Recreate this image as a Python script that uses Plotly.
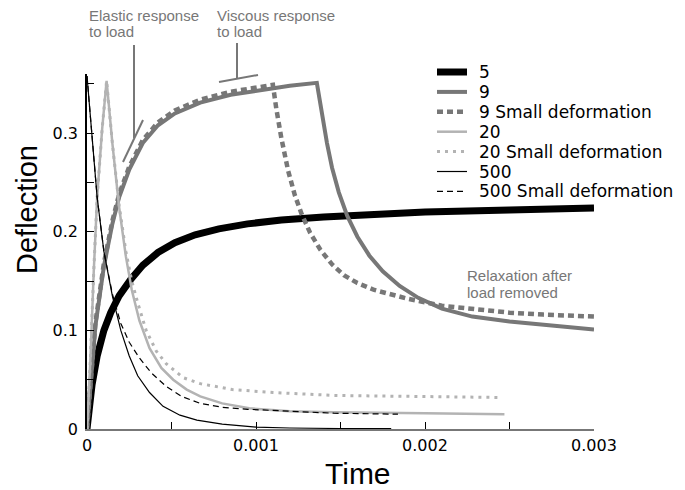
import plotly.graph_objects as go

# ---- data ----
series_names = ["5", "9", "9 Small deformation", "20", "20 Small deformation",
                "500", "500 Small deformation"]

t_5 = [0, 0.00001, 0.00003, 0.00006, 0.0001, 0.00014, 0.00019, 0.00026, 0.00033, 0.00042,
       0.00052, 0.00064, 0.00078, 0.00095, 0.00115, 0.0014, 0.0017, 0.002, 0.0025, 0.003]
y_5 = [0, 0.018, 0.045, 0.074, 0.100, 0.118, 0.135, 0.152, 0.166, 0.179,
       0.189, 0.197, 0.203, 0.208, 0.212, 0.215, 0.218, 0.220, 0.222, 0.224]

t_9 = [0, 0.00002, 0.00005, 0.0001, 0.00015, 0.00019, 0.00025, 0.00033, 0.00042, 0.00052,
       0.00067, 0.00085, 0.00106, 0.0012, 0.00136,
       0.00138, 0.0014, 0.00142, 0.00145, 0.00149, 0.00154, 0.0016, 0.00167, 0.00175,
       0.00185, 0.00196, 0.0021, 0.00228, 0.0025, 0.00275, 0.003]
y_9 = [0, 0.045, 0.105, 0.165, 0.208, 0.235, 0.263, 0.290, 0.308, 0.320,
       0.331, 0.339, 0.345, 0.348, 0.351,
       0.330, 0.310, 0.290, 0.265, 0.240, 0.216, 0.195, 0.176, 0.160,
       0.145, 0.133, 0.122, 0.114, 0.109, 0.105, 0.101]

t_9s = [0, 0.00002, 0.00005, 0.0001, 0.00015, 0.00019, 0.00025, 0.00033, 0.00042, 0.00052,
        0.00067, 0.00085, 0.0011,
        0.00112, 0.00115, 0.00119, 0.00123, 0.00127, 0.00132, 0.00138, 0.00145, 0.00152,
        0.0016, 0.0017, 0.0018, 0.0019, 0.0021, 0.0023, 0.0025, 0.0027, 0.003]
y_9s = [0, 0.047, 0.108, 0.168, 0.211, 0.238, 0.266, 0.293, 0.311, 0.323,
        0.334, 0.342, 0.349,
        0.325, 0.295, 0.262, 0.237, 0.218, 0.199, 0.182, 0.167, 0.156,
        0.148, 0.141, 0.136, 0.132, 0.125, 0.121, 0.118, 0.116, 0.114]

t_20 = [0, 0.00002, 0.00004, 0.00006, 0.00009, 0.000116, 0.00015, 0.00019, 0.00023, 0.000265,
        0.00031, 0.00037, 0.00044, 0.00051, 0.00059, 0.00067, 0.0008, 0.00096, 0.0012,
        0.00146, 0.002, 0.00247]
y_20 = [0, 0.07, 0.16, 0.235, 0.305, 0.353, 0.290, 0.225, 0.175, 0.141,
        0.110, 0.082, 0.062, 0.050, 0.040, 0.033, 0.026, 0.021, 0.018,
        0.017, 0.016, 0.015]

t_20s = [0, 0.00002, 0.00004, 0.00006, 0.00009, 0.000116, 0.00015, 0.00019, 0.00023, 0.000265,
         0.0003, 0.00035, 0.00041, 0.00047, 0.00057, 0.00067, 0.00086, 0.0011, 0.00146,
         0.002, 0.00244]
y_20s = [0, 0.07, 0.16, 0.235, 0.305, 0.353, 0.290, 0.227, 0.180, 0.150,
         0.128, 0.100, 0.079, 0.066, 0.052, 0.046, 0.040, 0.037, 0.034,
         0.033, 0.032]

t_500 = [0, 0.00003, 0.00006, 0.0001, 0.00015, 0.0002, 0.00025, 0.0003, 0.00037, 0.00045,
         0.00055, 0.00065, 0.0008, 0.001, 0.0012, 0.0015, 0.0018]
y_500 = [0.358, 0.300, 0.235, 0.180, 0.135, 0.100, 0.074, 0.054, 0.037, 0.023,
         0.014, 0.009, 0.005, 0.002, 0.001, 0.0005, 0.0003]

t_500s = [0, 0.00003, 0.00006, 0.0001, 0.00015, 0.0002, 0.00025, 0.00031, 0.00038, 0.00047,
          0.00056, 0.00067, 0.0008, 0.00095, 0.00106, 0.0013, 0.00146, 0.00184]
y_500s = [0.358, 0.300, 0.235, 0.180, 0.137, 0.107, 0.088, 0.072, 0.057, 0.043,
          0.033, 0.026, 0.022, 0.020, 0.019, 0.017, 0.016, 0.015]

x_tickvals = [0, 0.001, 0.002, 0.003]
x_ticktext = ["0", "0.001", "0.002", "0.003"]
y_tickvals = [0, 0.1, 0.2, 0.3]
y_ticktext = ["0", "0.1", "0.2", "0.3"]

# ---- styles ----
DARK = "#777777"
LIGHT = "#b3b3b3"
series_data = [(t_5, y_5), (t_9, y_9), (t_9s, y_9s), (t_20, y_20), (t_20s, y_20s),
               (t_500, y_500), (t_500s, y_500s)]
series_styles = [
    dict(color="black", width=7),
    dict(color=DARK, width=4),
    dict(color=DARK, width=4.5, dash="6px,4px"),
    dict(color=LIGHT, width=2.5),
    dict(color=LIGHT, width=3, dash="3px,5px"),
    dict(color="black", width=1.2),
    dict(color="black", width=1.2, dash="6px,4px"),
]

fig = go.Figure()
for name, (tx, vy), st in zip(series_names, series_data, series_styles):
    fig.add_trace(go.Scatter(x=tx, y=vy, mode="lines", name=name, line=st,
                             showlegend=False))

# page has an 8px body margin; plot area sits at screen x 87..594, y 74..429
OFF = 8
W, H = 685 - OFF, 490 - OFF
PL, PR, PT, PB = 87, 594, 74, 429
L, T = PL - OFF, PT - OFF
R = W - (PR - OFF)
B = H - (PB - OFF)


def px(sx):
    return (sx - PL) / (PR - PL)


def py(sy):
    return (PB - sy) / (PB - PT)


ptr = dict(color=DARK, width=2)
shapes = [
    dict(type="line", xref="paper", yref="paper", x0=px(134), y0=py(45), x1=px(134), y1=py(138), line=ptr),
    dict(type="line", xref="paper", yref="paper", x0=px(123), y0=py(162), x1=px(143), y1=py(120), line=ptr),
    dict(type="line", xref="paper", yref="paper", x0=px(237), y0=py(43), x1=px(237), y1=py(79), line=ptr),
    dict(type="line", xref="paper", yref="paper", x0=px(219), y0=py(82), x1=px(258), y1=py(75), line=ptr),
]

HF = "Liberation Sans, Arial, Helvetica, sans-serif"
ann_font = dict(family=HF, size=15, color=DARK)
annotations = []
for txt, sx, sy in [("Elastic response", 87, 15), ("to load", 87, 32),
                    ("Viscous response", 215, 15), ("to load", 215, 32),
                    ("Relaxation after", 465, 275), ("load removed", 465, 292)]:
    annotations.append(dict(text=txt, xref="paper", yref="paper", x=px(sx), y=py(sy),
                            xanchor="left", yanchor="middle", showarrow=False, font=ann_font))

annotations.append(dict(text="Time", xref="paper", yref="paper", x=px(358), y=py(473),
                        xanchor="center", yanchor="middle", showarrow=False,
                        font=dict(family=HF, size=30, color="black")))
annotations.append(dict(text="Deflection", xref="paper", yref="paper", x=px(27), y=py(210),
                        xanchor="center", yanchor="middle", textangle=-90, showarrow=False,
                        font=dict(family=HF, size=29, color="black")))

# legend (drawn as key lines + labels, built from the series list)
LEG_FONT = dict(family="DejaVu Sans, sans-serif", size=17, color="black")
for i, (name, st) in enumerate(zip(series_names, series_styles)):
    sy = 72 + 19.9 * i
    ln = dict(color=st["color"], width=st["width"])
    if "dash" in st:
        ln["dash"] = st["dash"]
    shapes.append(dict(type="line", xref="paper", yref="paper",
                       x0=px(437), x1=px(467), y0=py(sy), y1=py(sy), line=ln))
    annotations.append(dict(text=name, xref="paper", yref="paper", x=px(477), y=py(sy),
                            xanchor="left", yanchor="middle", showarrow=False, font=LEG_FONT))

tick_font = dict(family="DejaVu Sans, sans-serif", size=16, color="black")

fig.update_layout(
    width=W, height=H,
    margin=dict(l=L, r=R, t=T, b=B, pad=0),
    paper_bgcolor="white", plot_bgcolor="white",
    showlegend=False,
    shapes=shapes,
    annotations=annotations,
    xaxis=dict(range=[0, 0.003], showgrid=False, zeroline=False,
               showline=True, linecolor="#777777", linewidth=1.5,
               tickvals=x_tickvals, ticktext=x_ticktext,
               ticks="inside", ticklen=7, tickcolor="black", tickwidth=1,
               minor=dict(dtick=0.0005, tick0=0, ticks="inside", ticklen=7, tickcolor="black"),
               tickfont=tick_font, ticklabelstandoff=1),
    yaxis=dict(range=[0, 0.36], showgrid=False, zeroline=False,
               showline=True, linecolor="black", linewidth=1.5,
               tickvals=y_tickvals, ticktext=y_ticktext,
               ticks="inside", ticklen=7, tickcolor="black", tickwidth=1,
               minor=dict(dtick=0.05, tick0=0, ticks="inside", ticklen=7, tickcolor="black"),
               tickfont=tick_font, ticklabelstandoff=4),
)

fig.write_html("out.html")
